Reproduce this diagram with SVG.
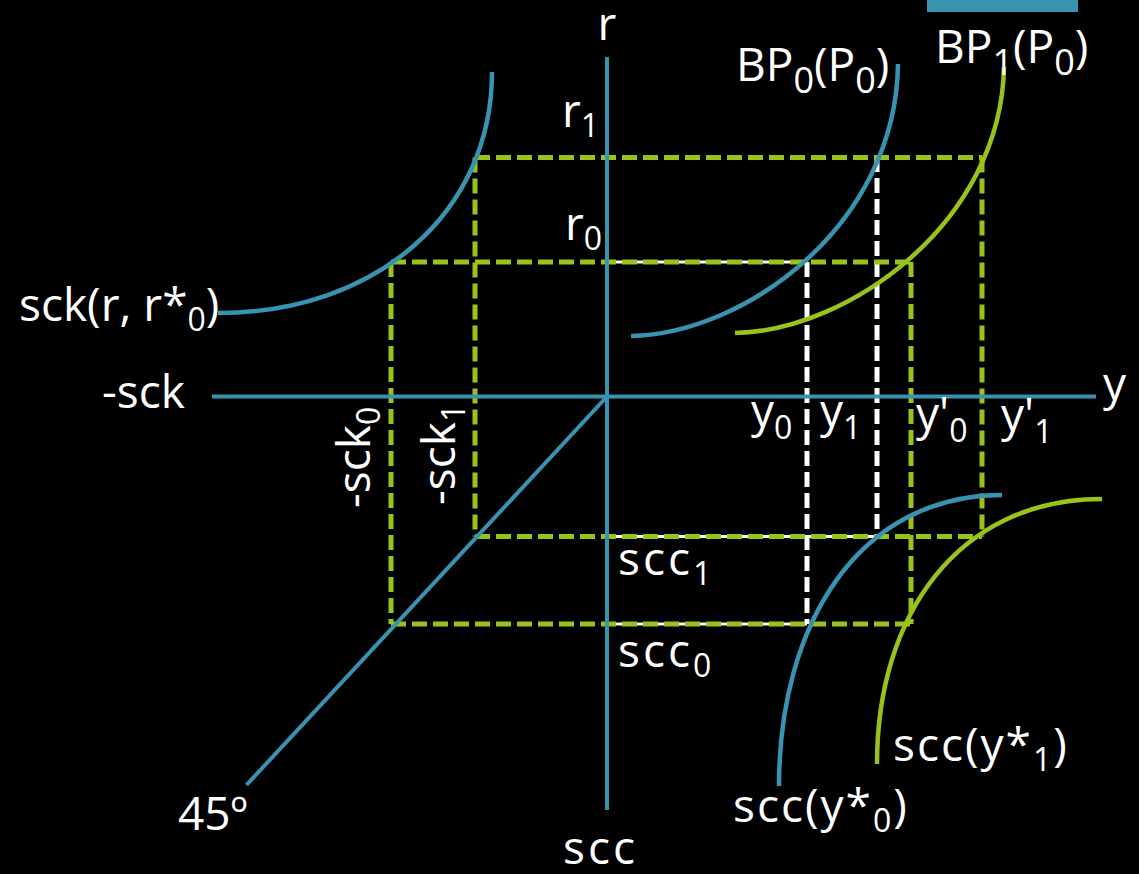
<svg xmlns="http://www.w3.org/2000/svg" width="1139" height="874" viewBox="0 0 1139 874">
<style>
.bg{fill:#000}
.ax{stroke:#3892B0;stroke-width:4;fill:none}
.cb{stroke:#3892B0;stroke-width:4.5;fill:none}
.cg{stroke:#98C31A;stroke-width:4.5;fill:none}
.dg{stroke:#98C31A;stroke-width:5;fill:none;stroke-dasharray:15 6}
.dw{stroke:#FFFFFF;stroke-width:5;fill:none;stroke-dasharray:15 6}
.dwh{stroke:#FFFFFF;stroke-width:3;fill:none;stroke-dasharray:15 6;stroke-dashoffset:-1.5}
text{font-family:"Open Sans","DejaVu Sans",sans-serif;font-size:46px;fill:#FFFFFF}
.w{letter-spacing:3px}
.w2{letter-spacing:2px}
.s{font-size:32px}
.sb{font-size:36px}
</style>
<rect class="bg" x="0" y="0" width="1139" height="874"/>
<rect x="927" y="0" width="151" height="12" fill="#3892B0"/>

<g id="connectors">
  <line class="dwh" x1="607" y1="262" x2="807" y2="262"/>
  <line class="dwh" x1="607" y1="624" x2="807" y2="624"/>
  <line class="dwh" x1="607" y1="536.5" x2="877" y2="536.5"/>
  <line class="dw" x1="807" y1="262" x2="807" y2="624"/>
  <line class="dw" x1="877" y1="157" x2="877" y2="537"/>
  <line class="dg" x1="475" y1="157.5" x2="982" y2="157.5"/>
  <line class="dg" x1="391" y1="262" x2="911" y2="262"/>
  <line class="dg" x1="475" y1="536.5" x2="982" y2="536.5"/>
  <line class="dg" x1="391" y1="624" x2="911" y2="624"/>
  <line class="dg" x1="391" y1="262" x2="391" y2="624"/>
  <line class="dg" x1="475" y1="157.5" x2="475" y2="536.5"/>
  <line class="dg" x1="911" y1="262" x2="911" y2="624"/>
  <line class="dg" x1="982" y1="157.5" x2="982" y2="536.5"/>
</g>

<g id="axes">
  <line class="ax" x1="607" y1="57" x2="607" y2="810"/>
  <line class="ax" x1="212" y1="396.5" x2="1096" y2="396.5"/>
  <line class="ax" x1="607" y1="396.5" x2="246.5" y2="785"/>
</g>

<g id="curve-sck"><path class="cb" d="M218,313 C377,313 492,212 492,72"/></g>
<g id="curve-bp0"><path class="cb" d="M631,336 C745,334 896,225 898,64"/></g>
<g id="curve-bp1"><path class="cg" d="M735,333 C849,331 1001,222 1004,67"/></g>
<g id="curve-scc0"><path class="cb" d="M779,786 C779,625 858,495 1002,495"/></g>
<g id="curve-scc1"><path class="cg" d="M877,764 C877,615 958,499 1102,499"/></g>

<g id="labels">
  <text x="607" y="40" text-anchor="middle">r</text>
  <text x="562" y="127">r<tspan class="s" dy="10">1</tspan></text>
  <text x="565" y="240">r<tspan class="s" dy="10">0</tspan></text>
  <text x="736" y="81">BP<tspan class="sb" dy="12">0</tspan><tspan dy="-12">(P</tspan><tspan class="sb" dy="12">0</tspan><tspan dy="-12">)</tspan></text>
  <text x="935" y="63">BP<tspan class="sb" dy="12">1</tspan><tspan dy="-12">(P</tspan><tspan class="sb" dy="12">0</tspan><tspan dy="-12">)</tspan></text>
  <text x="19" y="321">sck(r, r*<tspan class="s" dy="10">0</tspan><tspan dy="-10">)</tspan></text>
  <text x="102" y="408">-sck</text>
  <text x="1103" y="400">y</text>
  <text transform="translate(370,508) rotate(-90)">-sck<tspan class="s" dy="10">0</tspan></text>
  <text transform="translate(455,505) rotate(-90)">-sck<tspan class="s" dy="10">1</tspan></text>
  <text x="751" y="427">y<tspan class="s" dy="12">0</tspan></text>
  <text x="820" y="427">y<tspan class="s" dy="12">1</tspan></text>
  <text x="916" y="430">y'<tspan class="s" dy="12">0</tspan></text>
  <text x="1001" y="431">y'<tspan class="s" dy="12">1</tspan></text>
  <text class="w" x="618" y="575">scc<tspan class="s" dy="10">1</tspan></text>
  <text class="w" x="618" y="667">scc<tspan class="s" dy="10">0</tspan></text>
  <text class="w2" x="733" y="822">scc(y*<tspan class="s" dy="10">0</tspan><tspan dy="-10">)</tspan></text>
  <text class="w2" x="893" y="761">scc(y*<tspan class="s" dy="10">1</tspan><tspan dy="-10">)</tspan></text>
  <text x="178" y="830">45º</text>
  <text class="w" x="563" y="864">scc</text>
</g>
</svg>
